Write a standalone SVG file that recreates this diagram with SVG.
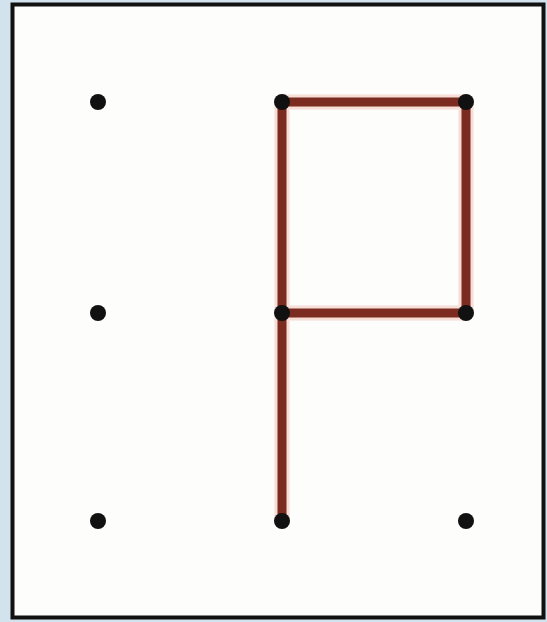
<svg xmlns="http://www.w3.org/2000/svg" width="547" height="622" viewBox="0 0 547 622">
<style>
.seg{stroke:#7b2b1f;stroke-width:9;stroke-linecap:butt;fill:none}
.glow{stroke:#f3c9c0;stroke-width:15;fill:none;opacity:0.6}
.dot{fill:#111}
</style>
<rect x="0" y="0" width="547" height="622" fill="#d3e3ee"/>
<rect x="12.5" y="4.5" width="531" height="613" fill="#fdfdfb" stroke="#111" stroke-width="4"/>
<g id="connectors">
<path class="glow" d="M282 102H466M466 102V313M282 313H466M282 102V521"/>
<path class="seg" d="M282 102H466M466 102V313M282 313H466M282 102V521"/>
</g>
<g id="n1"><circle class="dot" cx="98" cy="102" r="8"/></g>
<g id="n2"><circle class="dot" cx="282" cy="102" r="8"/></g>
<g id="n3"><circle class="dot" cx="466" cy="102" r="8"/></g>
<g id="n4"><circle class="dot" cx="98" cy="313" r="8"/></g>
<g id="n5"><circle class="dot" cx="282" cy="313" r="8"/></g>
<g id="n6"><circle class="dot" cx="466" cy="313" r="8"/></g>
<g id="n7"><circle class="dot" cx="98" cy="521" r="8"/></g>
<g id="n8"><circle class="dot" cx="282" cy="521" r="8"/></g>
<g id="n9"><circle class="dot" cx="466" cy="521" r="8"/></g>
</svg>
